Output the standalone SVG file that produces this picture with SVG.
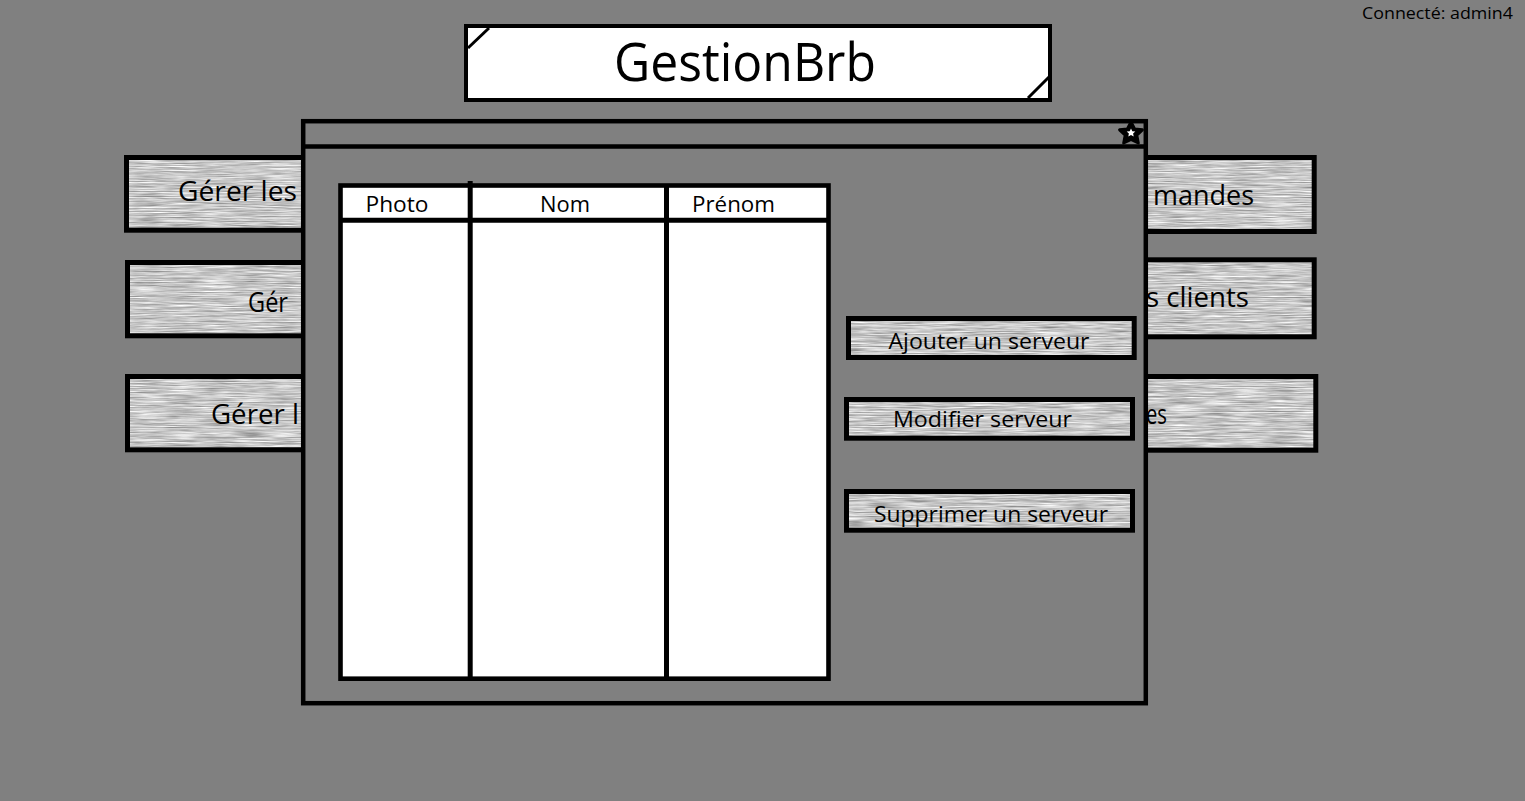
<svg xmlns="http://www.w3.org/2000/svg" width="1525" height="801" viewBox="0 0 1525 801">
<style>
.bd{fill:none;stroke:#000;stroke-width:5}
.tx{font-family:"Open Sans","Noto Sans",sans-serif;fill:#000}
.tex{fill:#c4c4c4}
</style>
<defs>
<filter id="grain" x="0" y="0" width="100%" height="100%" color-interpolation-filters="sRGB">
<feTurbulence type="fractalNoise" baseFrequency="0.03 0.8" numOctaves="3" seed="11" result="n"/>
<feColorMatrix in="n" type="matrix" values="0.6 0 0 0 0.48  0.6 0 0 0 0.48  0.6 0 0 0 0.48  0 0 0 0 1"/>
<feComposite operator="in" in2="SourceGraphic"/>
</filter>
</defs>
<rect width="1525" height="801" fill="#808080"/>

<g id="title">
<rect x="466" y="26" width="584" height="74" fill="#fff" stroke="#000" stroke-width="4"/>
<line x1="468" y1="48" x2="489" y2="28" stroke="#000" stroke-width="3"/>
<line x1="1028" y1="98" x2="1049" y2="77" stroke="#000" stroke-width="3"/>
<text class="tx" x="745" y="81" font-size="53" text-anchor="middle" textLength="262" lengthAdjust="spacingAndGlyphs">GestionBrb</text>
</g>

<g id="btn-left-1">
<rect class="tex" x="126.5" y="157.5" width="280" height="72.7" filter="url(#grain)"/>
<rect class="bd" x="126.5" y="157.5" width="280" height="72.7"/>
<text class="tx" x="178" y="201" font-size="27" textLength="119" lengthAdjust="spacingAndGlyphs">Gérer les</text>
</g>
<g id="btn-left-2">
<rect class="tex" x="127.5" y="262.5" width="280" height="73.3" filter="url(#grain)"/>
<rect class="bd" x="127.5" y="262.5" width="280" height="73.3"/>
<text class="tx" x="248" y="312" font-size="27" textLength="40" lengthAdjust="spacingAndGlyphs">Gér</text>
</g>
<g id="btn-left-3">
<rect class="tex" x="127.5" y="376.5" width="280" height="73.3" filter="url(#grain)"/>
<rect class="bd" x="127.5" y="376.5" width="280" height="73.3"/>
<text class="tx" x="211" y="424" font-size="27" textLength="88" lengthAdjust="spacingAndGlyphs">Gérer l</text>
</g>
<g id="btn-right-1">
<rect class="tex" x="1000" y="157.5" width="314.2" height="74" filter="url(#grain)"/>
<rect class="bd" x="1000" y="157.5" width="314.2" height="74"/>
<text class="tx" x="1153" y="205" font-size="27" textLength="101" lengthAdjust="spacingAndGlyphs">mandes</text>
</g>
<g id="btn-right-2">
<rect class="tex" x="1000" y="259.8" width="314.2" height="77" filter="url(#grain)"/>
<rect class="bd" x="1000" y="259.8" width="314.2" height="77"/>
<text class="tx" x="1146" y="307" font-size="27" textLength="103" lengthAdjust="spacingAndGlyphs">s clients</text>
</g>
<g id="btn-right-3">
<rect class="tex" x="1000" y="376.5" width="315.8" height="73.7" filter="url(#grain)"/>
<rect class="bd" x="1000" y="376.5" width="315.8" height="73.7"/>
<text class="tx" x="1146" y="424" font-size="27" textLength="21" lengthAdjust="spacingAndGlyphs">es</text>
</g>

<g id="window">
<rect x="303.2" y="121.2" width="842.6" height="582" fill="#808080" stroke="#000" stroke-width="4.5"/>
<line x1="303" y1="146.5" x2="1146" y2="146.5" stroke="#000" stroke-width="4.5"/>
<g id="close-icon">
<polygon points="1131,122 1134.6,128.9 1142.4,129.8 1136.8,135.2 1138.3,143 1131,139.4 1123.7,143 1125.2,135.2 1119.6,129.8 1127.4,128.9" fill="#000" stroke="#000" stroke-width="3" stroke-linejoin="round"/>
<polygon points="1131,128.5 1132.3,131.3 1135.3,131.6 1133.1,133.6 1133.7,136.6 1131,135.1 1128.3,136.6 1128.9,133.6 1126.7,131.6 1129.7,131.3" fill="#fff"/>
</g>
</g>

<g id="table">
<rect x="340.5" y="185.5" width="488" height="493.2" fill="#fff" stroke="#000" stroke-width="4.6"/>
<line x1="340" y1="220.2" x2="829" y2="220.2" stroke="#000" stroke-width="5"/>
<line x1="470.2" y1="181" x2="470.2" y2="679" stroke="#000" stroke-width="5"/>
<line x1="666.5" y1="185" x2="666.5" y2="679" stroke="#000" stroke-width="5"/>
<text class="tx" x="397" y="211.5" font-size="22" text-anchor="middle" textLength="63" lengthAdjust="spacingAndGlyphs">Photo</text>
<text class="tx" x="565" y="212" font-size="22" text-anchor="middle" textLength="50" lengthAdjust="spacingAndGlyphs">Nom</text>
<text class="tx" x="733.5" y="212" font-size="22" text-anchor="middle" textLength="83" lengthAdjust="spacingAndGlyphs">Prénom</text>
</g>

<g id="btn-ajouter">
<rect class="tex" x="848.5" y="318.5" width="285.7" height="39" filter="url(#grain)"/>
<rect class="bd" x="848.5" y="318.5" width="285.7" height="39"/>
<text class="tx" x="989" y="348.5" font-size="22" text-anchor="middle" textLength="201" lengthAdjust="spacingAndGlyphs">Ajouter un serveur</text>
</g>
<g id="btn-modifier">
<rect class="tex" x="846.5" y="399.5" width="286" height="38.7" filter="url(#grain)"/>
<rect class="bd" x="846.5" y="399.5" width="286" height="38.7"/>
<text class="tx" x="982.5" y="427" font-size="22" text-anchor="middle" textLength="179" lengthAdjust="spacingAndGlyphs">Modifier serveur</text>
</g>
<g id="btn-supprimer">
<rect class="tex" x="846.5" y="491.5" width="286" height="38.7" filter="url(#grain)"/>
<rect class="bd" x="846.5" y="491.5" width="286" height="38.7"/>
<text class="tx" x="991" y="522" font-size="22" text-anchor="middle" textLength="234" lengthAdjust="spacingAndGlyphs">Supprimer un serveur</text>
</g>

<g id="connectors"></g>

<text id="user" class="tx" x="1513" y="19" font-size="17" fill="#1a1a1a" text-anchor="end" textLength="151" lengthAdjust="spacingAndGlyphs">Connecté: admin4</text>
</svg>
